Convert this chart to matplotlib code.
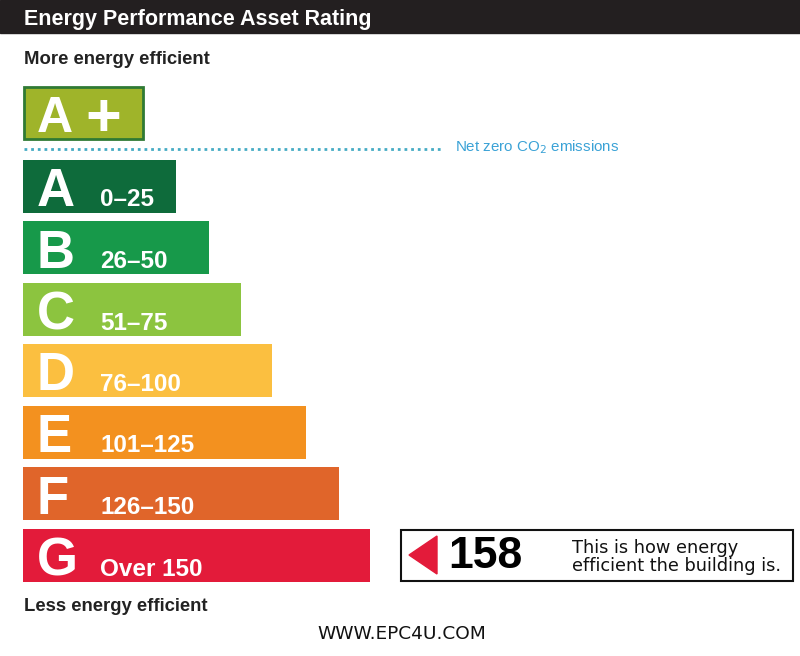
import matplotlib.pyplot as plt
from matplotlib.patches import Rectangle, Polygon

plt.rcParams['font.family'] = ['Liberation Sans', 'DejaVu Sans']

# data
bands = ['A', 'B', 'C', 'D', 'E', 'F', 'G']
ranges = ['0–25', '26–50', '51–75', '76–100', '101–125', '126–150', 'Over 150']
bar_lengths = [153, 186, 218, 249, 283, 316, 347]
band_colors = ['#0e6b3b', '#17994a', '#8cc43f', '#fbbf40', '#f3911f', '#e0652a', '#e31b3a']
rating = 158
rating_band = 'G'

fig = plt.figure(figsize=(8, 6.56), dpi=100)
ax = fig.add_axes([0, 0, 1, 1])
ax.set_xlim(0, 800)
ax.set_ylim(656, 0)
ax.axis('off')

# header
ax.add_patch(Rectangle((0, 0), 800, 33, color='#231f20'))
ax.text(24, 25, 'Energy Performance Asset Rating', color='white', fontsize=15.5,
        fontweight='bold', va='baseline', ha='left')
ax.text(24, 64, 'More energy efficient', color='#222222', fontsize=13.3,
        fontweight='bold', va='baseline', ha='left')

# A+ box
ax.add_patch(Rectangle((24, 87), 119, 52, facecolor='#9fb42a', edgecolor='#2f7a34', lw=2))
ax.text(37, 132, 'A', color='white', fontsize=36, fontweight='bold', va='baseline', ha='left')
ax.text(103, 136, '+', color='white', fontsize=44, fontweight='bold', va='baseline', ha='center')

# net zero line
ax.plot([24, 443], [149, 149], ls=(0, (1, 1.4)), color='#45abc4', lw=2)
ax.text(455, 147, 'Net zero CO$_2$ emissions', color='#3aa2d6', fontsize=10.9,
        va='center', ha='left')

# rating bars
y_pos = [186 + 61.5 * i for i in range(len(bands))]
ax.barh(y_pos, bar_lengths, height=53, left=23, color=band_colors)
for y, b, r in zip(y_pos, bands, ranges):
    ax.text(37, y + 20, b, color='white', fontsize=38, fontweight='bold', va='baseline', ha='left')
    ax.text(100, y + 20.5, r, color='white', fontsize=17.5, fontweight='bold',
            va='baseline', ha='left')

# current rating indicator
yi = y_pos[bands.index(rating_band)]
ax.add_patch(Rectangle((401, yi - 25.5), 392, 51, facecolor='white', edgecolor='#111111', lw=1.5))
ax.add_patch(Polygon([[409, yi], [437, yi - 19], [437, yi + 19]], closed=True, color='#e31b3a'))
ax.text(448, yi + 1, str(rating), color='black', fontsize=32, fontweight='bold',
        va='center', ha='left')
ax.text(572, yi - 7, 'This is how energy', color='#111111', fontsize=12.8,
        family='DejaVu Sans', va='center', ha='left')
ax.text(572, yi + 11, 'efficient the building is.', color='#111111', fontsize=12.8,
        family='DejaVu Sans', va='center', ha='left')

ax.text(24, 611, 'Less energy efficient', color='#222222', fontsize=13.3,
        fontweight='bold', va='baseline', ha='left')
ax.text(402, 634, 'WWW.EPC4U.COM', color='#111111', fontsize=13.3, family='DejaVu Sans',
        va='center', ha='center')

fig.savefig('out.png', dpi=100)
